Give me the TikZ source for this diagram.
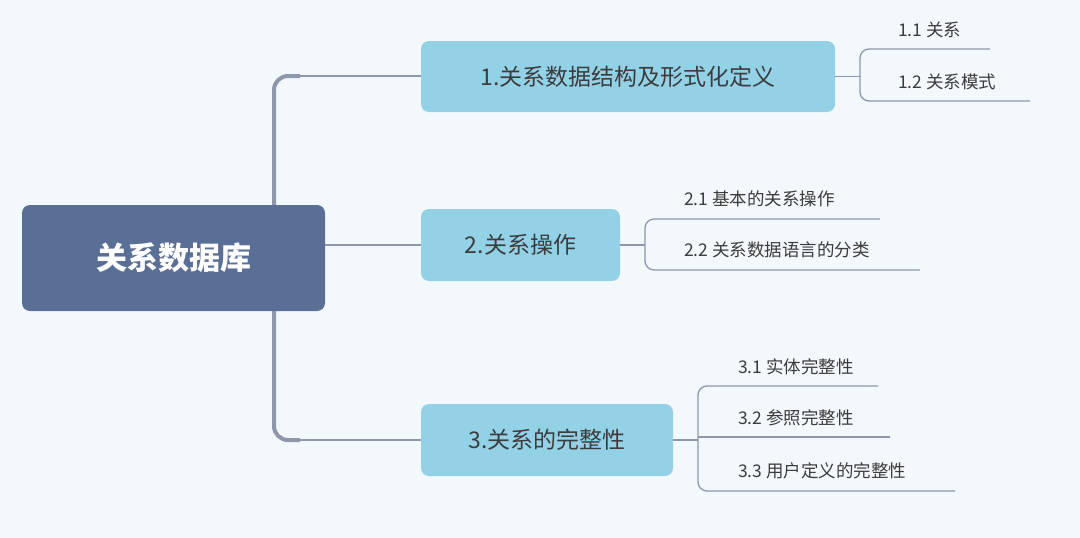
\documentclass[tikz,border=0pt]{standalone}
\usepackage{fontspec}
\setmainfont{Noto Sans CJK SC}
\begin{document}
\begin{tikzpicture}[x=1pt,y=-1pt,
 root/.style={fill=rootc,rounded corners=8pt,text=white,font=\fontsize{31}{36}\selectfont\bfseries},
 br/.style={fill=brc,rounded corners=8pt,text=txt,font=\fontsize{23}{28}\selectfont},
 leaf/.style={text=txt,font=\fontsize{17.5}{20}\selectfont,anchor=west,inner sep=0pt},
 ln/.style={draw=linec,line width=1.3pt,rounded corners=9pt},
 main/.style={draw=linec,line width=4pt,rounded corners=14pt}]
\definecolor{bg}{HTML}{F3F8FC}
\definecolor{rootc}{HTML}{5A6F96}
\definecolor{brc}{HTML}{93D1E6}
\definecolor{txt}{HTML}{3C3C3C}
\definecolor{linec}{HTML}{8E97AB}
\fill[bg] (0,0) rectangle (1080,538);
\useasboundingbox (0,0) rectangle (1080,538);
\draw[main] (274,205) -- (274,76) -- (300,76);
\draw[main] (274,311) -- (274,440) -- (300,440);
\draw[ln] (298,76) -- (421,76);
\draw[ln] (298,440) -- (421,440);
\draw[ln] (325,245) -- (421,245);
\node[root,minimum width=303pt,minimum height=106pt] (r) at (173.5,258) {关系数据库};
\node[br,minimum width=414pt,minimum height=71pt] (b1) at (628,76.5) {1.关系数据结构及形式化定义};
\node[br,minimum width=199pt,minimum height=72pt] (b2) at (520.5,245) {2.关系操作};
\node[br,minimum width=252pt,minimum height=72pt] (b3) at (547,440) {3.关系的完整性};
% branch 1 leaves
\draw[ln] (b1.east) -- (860,76.5);
\draw[ln] (990,49) -- (860,49) -- (860,101) -- (1030,101);
\node[leaf] (l11) at (898,30) {1.1 关系};
\node[leaf] (l12) at (898,82) {1.2 关系模式};
% branch 2
\draw[ln] (b2.east) -- (645,245);
\draw[ln] (880,219) -- (645,219) -- (645,270) -- (920,270);
\node[leaf] (l21) at (684,199) {2.1 基本的关系操作};
\node[leaf] (l22) at (684,250) {2.2 关系数据语言的分类};
% branch 3
\draw[ln] (b3.east) -- (698,440);
\draw[ln] (878,386) -- (698,386) -- (698,491) -- (955,491);
\draw[ln] (698,437) -- (890,437);
\node[leaf] (l31) at (738,367) {3.1 实体完整性};
\node[leaf] (l32) at (738,418) {3.2 参照完整性};
\node[leaf] (l33) at (738,471) {3.3 用户定义的完整性};
\end{tikzpicture}
\end{document}
